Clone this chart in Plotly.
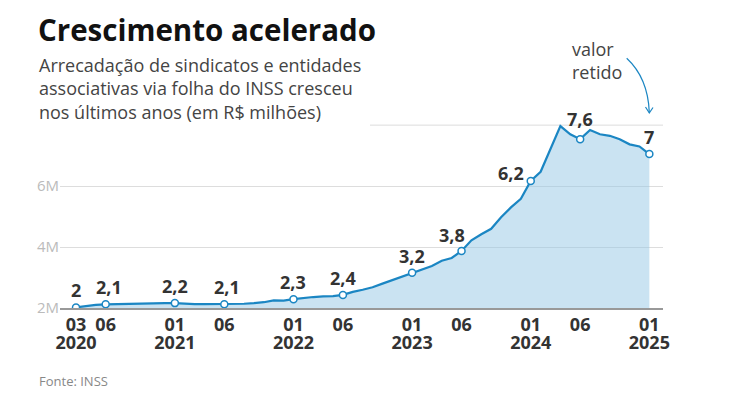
import plotly.graph_objects as go

# ---------------- data ----------------
months = ["2020-03","2020-04","2020-05","2020-06","2020-07","2020-08","2020-09","2020-10","2020-11","2020-12",
          "2021-01","2021-02","2021-03","2021-04","2021-05","2021-06","2021-07","2021-08","2021-09","2021-10","2021-11","2021-12",
          "2022-01","2022-02","2022-03","2022-04","2022-05","2022-06","2022-07","2022-08","2022-09","2022-10","2022-11","2022-12",
          "2023-01","2023-02","2023-03","2023-04","2023-05","2023-06","2023-07","2023-08","2023-09","2023-10","2023-11","2023-12",
          "2024-01","2024-02","2024-03","2024-04","2024-05","2024-06","2024-07","2024-08","2024-09","2024-10","2024-11","2024-12",
          "2025-01"]
values = [2.02, 2.07, 2.10, 2.12, 2.13, 2.14, 2.15, 2.15, 2.16, 2.16,
          2.16, 2.14, 2.13, 2.13, 2.13, 2.12, 2.13, 2.14, 2.16, 2.19, 2.25, 2.24,
          2.29, 2.33, 2.36, 2.38, 2.39, 2.43, 2.53, 2.60, 2.68, 2.80, 2.92, 3.04,
          3.16, 3.27, 3.38, 3.55, 3.64, 3.87, 4.22, 4.42, 4.60, 4.98, 5.30, 5.58,
          6.17, 6.47, 7.25, 7.97, 7.70, 7.54, 7.84, 7.70, 7.65, 7.54, 7.37, 7.30,
          7.05]
label_months = ["2020-03","2020-06","2021-01","2021-06","2022-01","2022-06","2023-01","2023-06","2024-01","2024-06","2025-01"]
label_texts = ["2","2,1","2,2","2,1","2,3","2,4","3,2","3,8","6,2","7,6","7"]
month_tick_months = label_months
month_tick_texts = ["03","06","01","06","01","06","01","06","01","06","01"]
year_tick_months = ["2020-03","2021-01","2022-01","2023-01","2024-01","2025-01"]
year_tick_texts = ["2020","2021","2022","2023","2024","2025"]
y_tickvals = [2, 4, 6]
y_ticktext = ["2M", "4M", "6M"]

title = "Crescimento acelerado"
subtitle = "Arrecadação de sindicatos e entidades<br>associativas via folha do INSS cresceu<br>nos últimos anos (em R$ milhões)"
source = "Fonte: INSS"
note = "valor<br>retido"

# ---------------- layout geometry (screen px of the reference) ----------------
OFF = 8                               # page body margin
SCR_W, SCR_H = 737, 398
PL, PR, PT, PB = 60, 663, 116, 308    # plot area on screen
W, H = SCR_W - OFF, SCR_H - OFF
ML, MR, MT, MB = PL - OFF, SCR_W - PR, PT - OFF, SCR_H - PB
PW, PH = PR - PL, PB - PT

def px(xp):
    return (xp - PL) / PW

def py(yp):
    return (PB - yp) / PH

idx = list(range(len(months)))
label_idx = [months.index(m) for m in label_months]
label_vals = [values[i] for i in label_idx]
month_tick_idx = [months.index(m) for m in month_tick_months]
year_tick_idx = [months.index(m) for m in year_tick_months]

BLUE = "#1b86c3"
FILL = "rgba(150,200,230,0.5)"
DARK = "#333333"
XRANGE = [-1.62, 59.38]

fig = go.Figure()
fig.add_trace(go.Scatter(x=idx, y=values, mode="lines", fill="tozeroy",
                         fillcolor=FILL, line=dict(color=BLUE, width=2.2),
                         hoverinfo="skip", showlegend=False))
fig.add_trace(go.Scatter(x=label_idx, y=label_vals, mode="markers",
                         marker=dict(size=7, color="white", line=dict(color=BLUE, width=1.5)),
                         hoverinfo="skip", showlegend=False))
# invisible trace to activate the year axis
fig.add_trace(go.Scatter(x=year_tick_idx, y=[values[i] for i in year_tick_idx], xaxis="x2",
                         mode="markers", marker=dict(opacity=0), hoverinfo="skip", showlegend=False))

# label offsets (style only)
offsets = {"3,8": (-10, 16), "6,2": (-20, 8), "7,6": (0, 20), "2,1": (3, 17)}
anns = []
for i, v, t in zip(label_idx, label_vals, label_texts):
    dx, dy = offsets.get(t, (0, 17))
    anns.append(dict(x=i, y=v, text=t, showarrow=False, xshift=dx, yshift=dy,
                     xanchor="center", yanchor="middle",
                     font=dict(family="Open Sans", size=18, color=DARK, weight="bold")))

anns.append(dict(xref="paper", yref="paper", x=px(37), y=py(8), text="<b>" + title + "</b>",
                 showarrow=False, xanchor="left", yanchor="top", borderpad=0,
                 font=dict(family="Open Sans", size=29.5, color="#111111")))
anns.append(dict(xref="paper", yref="paper", x=px(37), y=py(51), text=subtitle, align="left",
                 showarrow=False, xanchor="left", yanchor="top",
                 font=dict(family="Open Sans", size=18, color="#444444")))
anns.append(dict(xref="paper", yref="paper", x=px(37), y=py(381), text=source, align="left",
                 showarrow=False, xanchor="left", yanchor="middle",
                 font=dict(family="Open Sans", size=13, color="#888888")))
anns.append(dict(xref="paper", yref="paper", x=px(570), y=py(35), text=note, align="left",
                 showarrow=False, xanchor="left", yanchor="top",
                 font=dict(family="Open Sans", size=18, color="#444444")))

def P(x, y):
    return f"{px(x):.5f},{py(y):.5f}"

shapes = [
    dict(type="line", xref="paper", yref="y", x0=px(370), x1=1, y0=8, y1=8,
         line=dict(color="#dddddd", width=1), layer="below"),
    dict(type="path", xref="paper", yref="paper",
         path=f"M {P(626.7,58.3)} Q {P(648,78)} {P(649.3,112.5)}",
         line=dict(color=BLUE, width=1.2)),
    dict(type="path", xref="paper", yref="paper",
         path=f"M {P(645.5,107)} L {P(649.3,113)} L {P(653,107.5)}",
         line=dict(color=BLUE, width=1.2)),
]

tickfont = dict(family="Open Sans", size=18, color=DARK, weight="bold")
fig.update_layout(
    width=W, height=H, margin=dict(l=ML, r=MR, t=MT, b=MB),
    paper_bgcolor="white", plot_bgcolor="white",
    annotations=anns, shapes=shapes,
    xaxis=dict(range=XRANGE, tickvals=month_tick_idx, ticktext=month_tick_texts, tickangle=0,
               showgrid=False, zeroline=False, showline=True, linecolor="#999999", linewidth=1.5,
               ticks="", tickfont=tickfont, fixedrange=True),
    xaxis2=dict(range=XRANGE, tickvals=year_tick_idx, ticktext=year_tick_texts, tickangle=0,
                overlaying="x", anchor="y", side="bottom", ticklabelstandoff=22,
                showgrid=False, zeroline=False, showline=False,
                ticks="", tickfont=tickfont, fixedrange=True),
    yaxis=dict(range=[2, 8.3], tickvals=y_tickvals, ticktext=y_ticktext,
               showgrid=True, gridcolor="#dddddd", gridwidth=1, zeroline=False,
               ticks="", tickfont=dict(family="Open Sans", size=15, color="#bbbbbb"),
               fixedrange=True),
    showlegend=False,
)

fig.write_html("out.html")
